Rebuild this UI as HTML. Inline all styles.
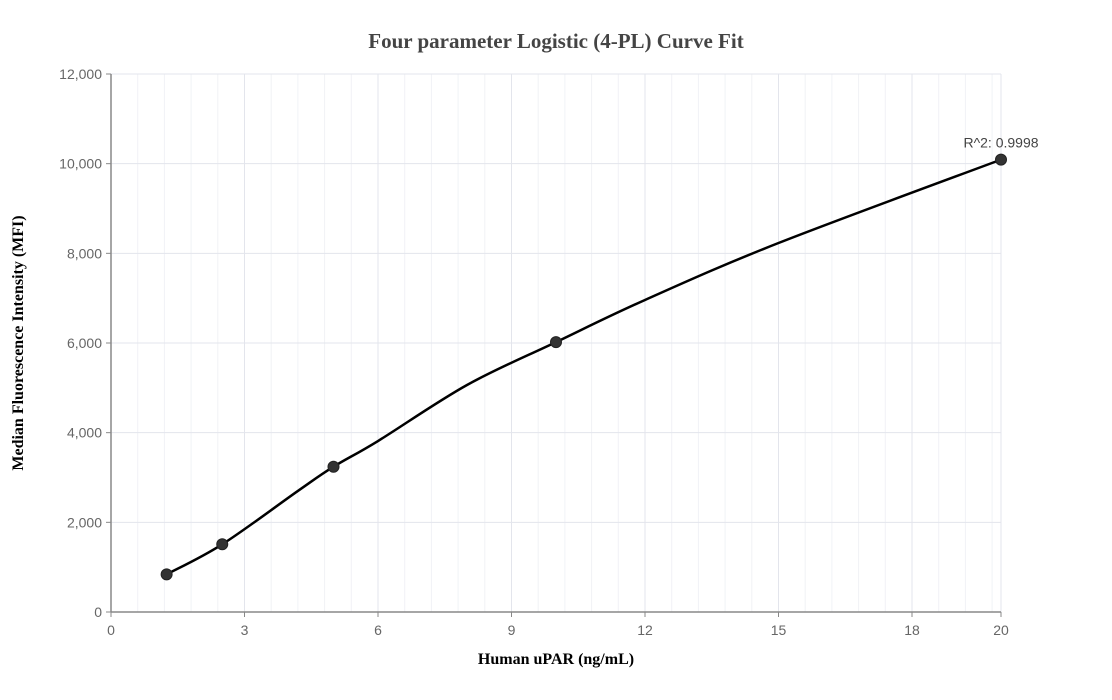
<!DOCTYPE html>
<html><head><meta charset="utf-8">
<style>
html,body{margin:0;padding:0;background:#fff;}
svg{display:block;}
</style></head>
<body>
<svg id="chart" width="1112" height="700" xmlns="http://www.w3.org/2000/svg">
<text x="556" y="48" text-anchor="middle" font-family="Liberation Serif, serif" font-weight="bold" font-size="21" fill="#444">Four parameter Logistic (4-PL) Curve Fit</text>
<g id="grid"></g>
<g id="axes"></g>
<g id="series"></g>
<text x="556" y="664" text-anchor="middle" font-family="Liberation Serif, serif" font-weight="bold" font-size="16" fill="#000">Human uPAR (ng/mL)</text>
<text transform="translate(23,343) rotate(-90)" text-anchor="middle" font-family="Liberation Serif, serif" font-weight="bold" font-size="16" fill="#000">Median Fluorescence Intensity (MFI)</text>
</svg>
<script>
const pointX = [1.25, 2.5, 5, 10, 20];
const pointY = [840, 1510, 3240, 6020, 10090];
const fitX = [1.25, 2.5, 4.2, 5, 6, 8, 10, 12, 15, 20];
const fitY = [840, 1510, 2700, 3240, 3814, 5063, 6020, 6960, 8230, 10090];
const xTicks = [0, 3, 6, 9, 12, 15, 18, 20];
const yTicks = [0, 2000, 4000, 6000, 8000, 10000, 12000];
const r2Label = "R^2: 0.9998";

const X0=111, X1=1001, Y0=612, Y1=74, XMAX=20, YMAX=12000;
const sx = v => X0 + (X1-X0)*v/XMAX;
const sy = v => Y0 - (Y0-Y1)*v/YMAX;
const NS="http://www.w3.org/2000/svg";
function mk(tag, attrs, parent){const e=document.createElementNS(NS,tag);for(const k in attrs)e.setAttribute(k,attrs[k]);parent.appendChild(e);return e;}
const grid=document.getElementById('grid'), axes=document.getElementById('axes'), series=document.getElementById('series');

// minor vertical grid
for(let i=1;i<XMAX/0.6;i++){const v=i*0.6; if(Math.abs(v/3-Math.round(v/3))<1e-6) continue;
  const l=mk('line',{x1:sx(v),x2:sx(v),y1:Y1,y2:Y0,stroke:'#f1f2f6','stroke-width':1},grid);
  
  }
xTicks.forEach(t=>{
  const l=mk('line',{x1:sx(t),x2:sx(t),y1:Y1,y2:Y0,stroke:'#e3e5ec','stroke-width':1},grid);
  
  
  const tk=mk('line',{x1:sx(t),x2:sx(t),y1:Y0,y2:Y0+5,stroke:'#888','stroke-width':1},axes);
  
  
  const tx=mk('text',{x:sx(t),y:Y0+23,'text-anchor':'middle','font-family':'Liberation Sans, sans-serif','font-size':14,fill:'#666'},axes);
  tx.textContent=t;
  
  
});
yTicks.forEach(t=>{
  const l=mk('line',{x1:X0,x2:X1,y1:sy(t),y2:sy(t),stroke:'#e3e5ec','stroke-width':1},grid);
  
  
  const tk=mk('line',{x1:X0-5,x2:X0,y1:sy(t),y2:sy(t),stroke:'#888','stroke-width':1},axes);
  
  
  const tx=mk('text',{x:X0-9,y:sy(t)+5,'text-anchor':'end','font-family':'Liberation Sans, sans-serif','font-size':14,fill:'#666'},axes);
  tx.textContent=t.toLocaleString('en-US');
  
  
});
const ax=mk('line',{x1:X0,x2:X1,y1:Y0,y2:Y0,stroke:'#888','stroke-width':1.5},axes);


const ay=mk('line',{x1:X0,x2:X0,y1:Y1,y2:Y0,stroke:'#888','stroke-width':1.5},axes);



// smooth curve (Catmull-Rom)
const P=fitX.map((x,i)=>[sx(x),sy(fitY[i])]);
let d=`M${P[0][0]},${P[0][1]}`;
for(let i=0;i<P.length-1;i++){
  const p0=P[Math.max(0,i-1)],p1=P[i],p2=P[i+1],p3=P[Math.min(P.length-1,i+2)];
  const c1=[p1[0]+(p2[0]-p0[0])/6,p1[1]+(p2[1]-p0[1])/6];
  const c2=[p2[0]-(p3[0]-p1[0])/6,p2[1]-(p3[1]-p1[1])/6];
  d+=` C${c1[0]},${c1[1]} ${c2[0]},${c2[1]} ${p2[0]},${p2[1]}`;
}
const path=mk('path',{d:d,fill:'none',stroke:'#000','stroke-width':2.5},series);


pointX.forEach((x,i)=>{
  const c=mk('circle',{cx:sx(x),cy:sy(pointY[i]),r:5.5,fill:'#333',stroke:'#222','stroke-width':1},series);
  
  
});
const last=pointX.length-1;
const lab=mk('text',{x:sx(pointX[last]),y:sy(pointY[last])-12,'text-anchor':'middle','font-family':'Liberation Sans, sans-serif','font-size':14,fill:'#444'},series);
lab.textContent=r2Label;


</script>
</body></html>
